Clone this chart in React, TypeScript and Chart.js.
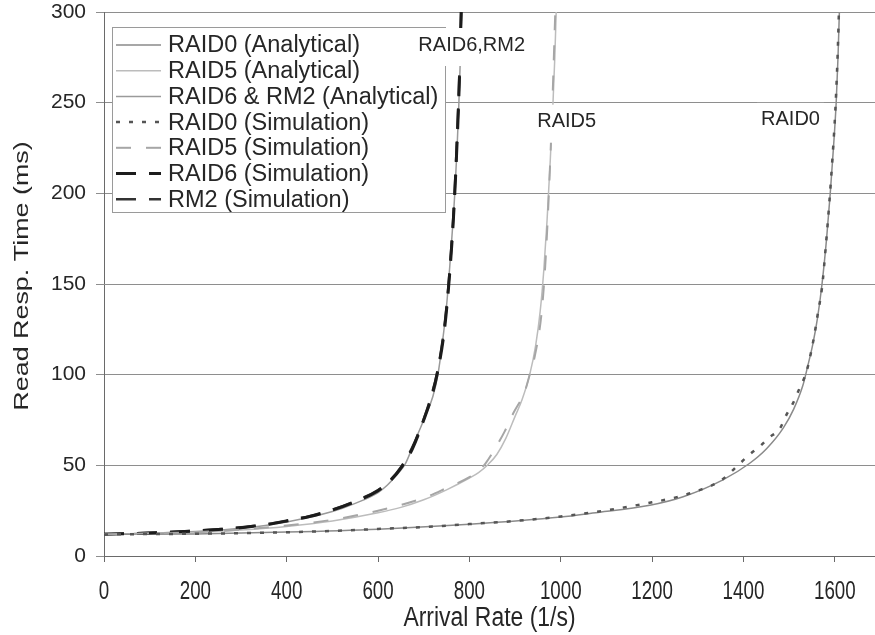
import React, { useEffect, useRef } from 'react';
import { Chart, registerables } from 'chart.js';

Chart.register(...registerables);

// ---- data ---------------------------------------------------------------

// RAID0, analytical model
const raid0AnaRate = [0, 200, 400, 600, 800, 1000, 1070, 1195, 1268, 1355, 1413, 1450, 1487, 1510, 1530, 1540, 1552, 1562, 1572, 1582, 1590, 1597, 1603, 1607, 1610];
const raid0AnaTime = [12, 12.2, 13.2, 14.8, 17.5, 21.5, 23.7, 28, 32.7, 42, 51, 59, 70.5, 81, 94, 104, 117, 131, 150, 175, 200, 225, 250, 275, 300];

// RAID5, analytical model
const raid5AnaRate = [0, 100, 200, 300, 400, 500, 600, 650, 700, 750, 800, 820, 841, 860, 880, 900, 915, 932, 945, 955, 963, 970, 977, 983, 987, 990];
const raid5AnaTime = [12, 12.4, 13, 14.3, 16.3, 19.3, 23.8, 26.8, 31, 36.5, 43, 46, 50.5, 56, 65, 77, 86, 100, 116, 135, 158, 185, 218, 250, 275, 300];

// RAID6 and RM2 share one analytical curve
const raid6AnaRate = [0, 100, 200, 300, 400, 500, 550, 600, 620, 640, 660, 680, 700, 720, 731, 740, 750, 760, 768, 773, 777, 780, 783];
const raid6AnaTime = [12, 12.6, 13.5, 15.3, 18.8, 24.5, 29, 35, 39, 44.5, 51, 63, 75, 88, 100, 116, 138, 170, 200, 225, 250, 273, 300];

// simulation runs
const raid0SimRate = [0, 100, 200, 300, 400, 500, 600, 700, 800, 900, 1000, 1100, 1200, 1250, 1300, 1350, 1388, 1412, 1437, 1457, 1479, 1494, 1508, 1523, 1538, 1549, 1556, 1563, 1572, 1580, 1588, 1595, 1601, 1606, 1609];
const raid0SimTime = [11.9, 12.1, 12.3, 12.6, 13.1, 13.8, 14.9, 16, 17.6, 19.3, 21.8, 25.2, 29.6, 32.2, 36, 41.5, 50, 55.7, 60.7, 65.5, 70, 77.8, 84, 92.6, 101.6, 113.6, 123, 134, 148, 170, 195, 220, 245, 275, 300];

const raid5SimRate = [0, 100, 200, 300, 400, 500, 600, 700, 750, 800, 820, 835, 852, 877, 896, 921, 932, 943, 958, 966, 974, 981, 988];
const raid5SimTime = [12, 12.5, 13.1, 14.6, 16.8, 20, 25, 32, 37.5, 43.5, 47, 51, 57.5, 68.6, 78.7, 90.5, 100, 110, 134, 160, 200, 245, 300];

const raid6SimRate = [0, 50, 100, 150, 200, 250, 300, 350, 400, 450, 500, 550, 600, 625, 650, 675, 700, 715, 730, 745, 755, 765, 772, 778, 782];
const raid6SimTime = [12, 12.3, 12.7, 13.2, 13.8, 14.6, 15.6, 17.1, 19.3, 21.8, 25.3, 30, 36, 41, 48.5, 59, 75, 86, 101, 124, 150, 186, 222, 262, 300];

const rm2SimRate = [0, 50, 100, 150, 200, 250, 300, 350, 400, 450, 500, 550, 600, 625, 650, 675, 700, 715, 730, 745, 755, 765, 772, 778, 782];
const rm2SimTime = [12.1, 12.4, 12.8, 13.3, 13.9, 14.7, 15.8, 17.3, 19.5, 22, 25.6, 30.3, 36.4, 41.5, 49, 60, 75.5, 87, 102, 126, 152, 188, 225, 265, 300];

// axes
const xTickValues = [0, 200, 400, 600, 800, 1000, 1200, 1400, 1600];
const yTickValues = [0, 50, 100, 150, 200, 250, 300];
const xTitle = 'Arrival Rate (1/s)';
const yTitle = 'Read Resp. Time (ms)';

// curve name tags placed in data coordinates
const tagText = ['RAID6,RM2', 'RAID5', 'RAID0'];
const tagRate = [805, 1013, 1503];
const tagTime = [281.8, 239.5, 240.5];

// ---- styling ------------------------------------------------------------

const SANS = "'Liberation Sans', Arial, Helvetica, sans-serif";
const TEXT = '#262626';
const GRID = '#8e8e8e';
const AXIS = '#6a6a6a';

const pts = (xs: number[], ys: number[]) => xs.map((x, i) => ({ x, y: ys[i] }));

const series = [
  { label: 'RAID0 (Analytical)', data: pts(raid0AnaRate, raid0AnaTime), color: '#8a8a8a', width: 1.5, dash: [] as number[], order: 1 },
  { label: 'RAID5 (Analytical)', data: pts(raid5AnaRate, raid5AnaTime), color: '#bcbcbc', width: 1.5, dash: [], order: 1 },
  { label: 'RAID6 & RM2 (Analytical)', data: pts(raid6AnaRate, raid6AnaTime), color: '#9a9a9a', width: 1.5, dash: [], order: 1 },
  { label: 'RAID0 (Simulation)', data: pts(raid0SimRate, raid0SimTime), color: '#555555', width: 2.5, dash: [4, 9], order: 0 },
  { label: 'RAID5 (Simulation)', data: pts(raid5SimRate, raid5SimTime), color: '#a6a6a6', width: 2, dash: [15, 15], order: 0 },
  { label: 'RAID6 (Simulation)', data: pts(raid6SimRate, raid6SimTime), color: '#1c1c1c', width: 3, dash: [20, 13], order: 0 },
  { label: 'RM2 (Simulation)', data: pts(rm2SimRate, rm2SimTime), color: '#333333', width: 2.5, dash: [20, 13], order: 0 },
];

// ---- plugins ------------------------------------------------------------

// boxed legend in the upper-left corner of the plot
const legendPlugin = {
  id: 'boxLegend',
  afterDatasetsDraw(chart: any) {
    const { ctx, chartArea } = chart;
    const x0 = Math.round(chartArea.left) + 8;
    const y0 = Math.round(chartArea.top) + 15;
    const w = 333;
    const h = 185;
    ctx.save();
    ctx.fillStyle = '#ffffff';
    ctx.fillRect(x0, y0, w, h);
    ctx.strokeStyle = '#9a9a9a';
    ctx.lineWidth = 1;
    ctx.strokeRect(x0 + 0.5, y0 + 0.5, w, h);
    ctx.font = `23.5px ${SANS}`;
    ctx.textBaseline = 'middle';
    ctx.textAlign = 'left';
    series.forEach((s, i) => {
      const cy = y0 + 18 + i * 25.7;
      ctx.save();
      ctx.strokeStyle = s.color;
      ctx.lineWidth = s.width;
      ctx.setLineDash(s.dash);
      ctx.beginPath();
      ctx.moveTo(x0 + 4, cy);
      ctx.lineTo(x0 + 49, cy);
      ctx.stroke();
      ctx.restore();
      ctx.fillStyle = TEXT;
      ctx.fillText(s.label, x0 + 56, cy + 1);
    });
    ctx.restore();
  },
};

// curve name tags on white patches, drawn above the legend
const tagPlugin = {
  id: 'curveTags',
  afterDraw(chart: any) {
    const { ctx, scales } = chart;
    ctx.save();
    ctx.font = `20px ${SANS}`;
    ctx.textAlign = 'center';
    ctx.textBaseline = 'middle';
    tagText.forEach((t, i) => {
      const px = scales.x.getPixelForValue(tagRate[i]);
      const py = scales.y.getPixelForValue(tagTime[i]);
      const w = ctx.measureText(t).width;
      ctx.fillStyle = '#ffffff';
      ctx.fillRect(px - w / 2 - 4, py - 17, w + 8, 38);
      ctx.fillStyle = TEXT;
      ctx.fillText(t, px, py);
    });
    ctx.restore();
  },
};

// condensed x tick labels and the two axis titles
const axisTextPlugin = {
  id: 'axisText',
  afterDraw(chart: any) {
    const { ctx, chartArea, scales } = chart;
    ctx.save();
    ctx.fillStyle = TEXT;
    ctx.textAlign = 'center';
    ctx.textBaseline = 'middle';
    ctx.font = `25px ${SANS}`;
    xTickValues.forEach((v) => {
      const px = scales.x.getPixelForValue(v);
      ctx.save();
      ctx.translate(px, 592);
      ctx.scale(0.75, 1);
      ctx.fillText(String(v), 0, 0);
      ctx.restore();
    });
    ctx.save();
    ctx.translate((chartArea.left + chartArea.right) / 2, 619);
    ctx.scale(0.85, 1);
    ctx.font = `27px ${SANS}`;
    ctx.fillText(xTitle, 0, 0);
    ctx.restore();
    ctx.translate(22, 276);
    ctx.rotate(-Math.PI / 2);
    ctx.scale(1.28, 1);
    ctx.font = `21px ${SANS}`;
    ctx.fillText(yTitle, 0, 0);
    ctx.restore();
  },
};

// ---- component ----------------------------------------------------------

export default function App() {
  const canvasRef = useRef<HTMLCanvasElement | null>(null);

  useEffect(() => {
    const canvas = canvasRef.current;
    if (!canvas) return;
    const chart = new Chart(canvas, {
      type: 'line',
      data: {
        datasets: series.map((s) => ({
          label: s.label,
          data: s.data,
          borderColor: s.color,
          backgroundColor: s.color,
          borderWidth: s.width,
          borderDash: s.dash,
          pointRadius: 0,
          fill: false,
          cubicInterpolationMode: 'monotone' as const,
          order: s.order,
        })),
      },
      options: {
        responsive: false,
        animation: false,
        devicePixelRatio: 1,
        layout: { padding: { top: 12, right: 0, left: 0, bottom: 0 } },
        plugins: { legend: { display: false }, tooltip: { enabled: false } },
        scales: {
          x: {
            type: 'linear',
            min: 0,
            max: 1688,
            afterBuildTicks: (scale: any) => {
              scale.ticks = xTickValues.map((v) => ({ value: v }));
            },
            afterFit: (scale: any) => {
              scale.height = 79;
              scale.paddingLeft = 0;
              scale.paddingRight = 0;
            },
            ticks: { display: false },
            grid: { display: true, drawOnChartArea: false, tickLength: 6, color: AXIS },
            border: { display: true, color: AXIS, width: 1 },
          },
          y: {
            type: 'linear',
            min: 0,
            max: 300,
            afterBuildTicks: (scale: any) => {
              scale.ticks = yTickValues.map((v) => ({ value: v }));
            },
            afterFit: (scale: any) => {
              scale.width = 104;
              scale.paddingTop = 0;
              scale.paddingBottom = 0;
            },
            ticks: {
              font: { family: SANS, size: 21 },
              color: TEXT,
              padding: 10,
              autoSkip: false,
              callback: (v: any) => String(v),
            },
            grid: { color: GRID, tickLength: 8, lineWidth: 1 },
            border: { display: true, color: AXIS, width: 1 },
          },
        },
      },
      plugins: [legendPlugin, tagPlugin, axisTextPlugin],
    });
    return () => chart.destroy();
  }, []);

  return (
    <div style={{ position: 'fixed', left: 0, top: 0, width: 875, height: 635, background: '#ffffff' }}>
      <canvas ref={canvasRef} width={875} height={635} />
    </div>
  );
}
